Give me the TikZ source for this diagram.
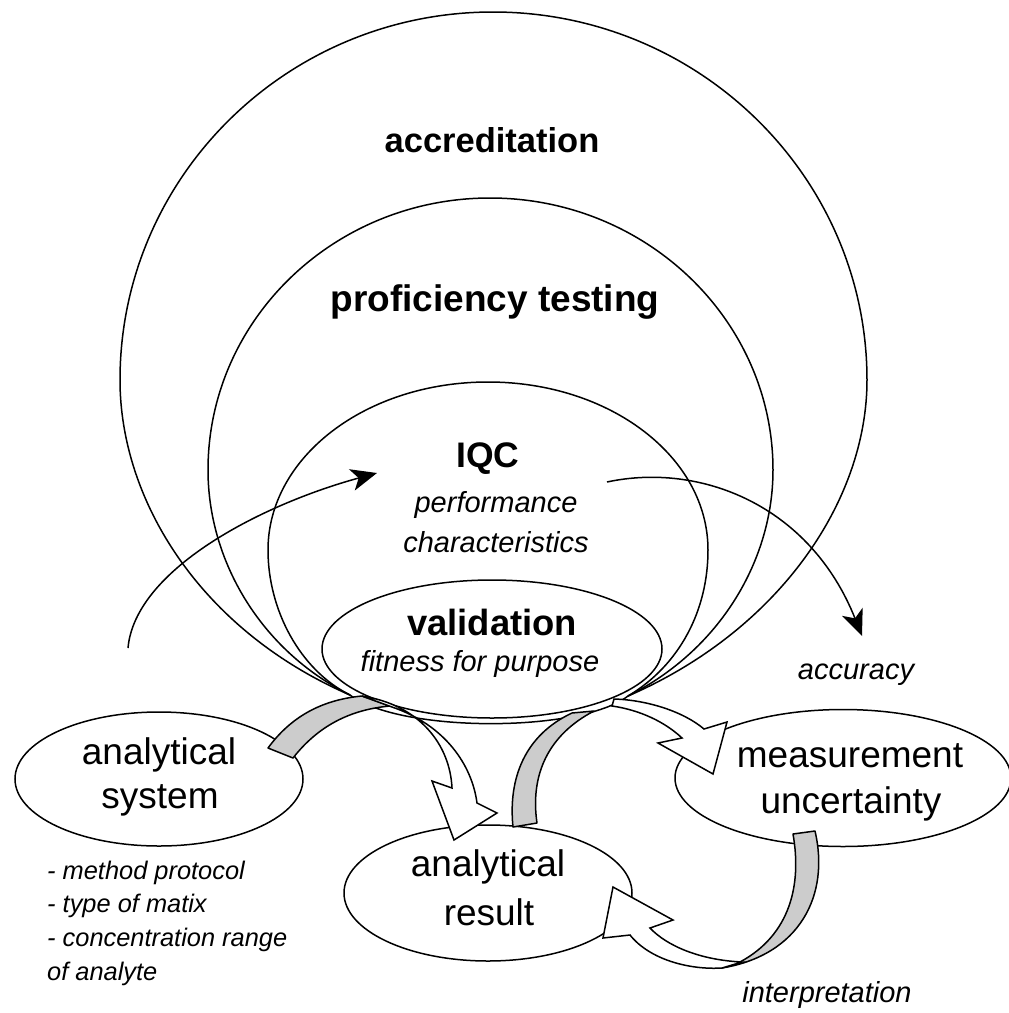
\documentclass[tikz,border=0pt]{standalone}
\usepackage{fontspec}
\setmainfont{Liberation Sans}
\usetikzlibrary{arrows.meta,shapes.geometric}

\tikzset{
  ring/.style={line width=1.5pt},
  bubble/.style={ellipse,draw,fill=white,line width=1.5pt,inner sep=0pt},
  bandgrey/.style={draw,fill=black!20,line width=1.5pt,line join=round},
  bandwhite/.style={draw,fill=white,line width=1.5pt,line join=miter},
  flow/.style={line width=1.5pt,-{Stealth[length=26pt,width=22pt,inset=7pt]}},
  titlebf/.style={font=\bfseries\fontsize{#1}{#1}\selectfont,anchor=base,inner sep=0pt},
  boxtxt/.style={font=\fontsize{37}{44}\selectfont,anchor=base,inner sep=0pt},
  notetxt/.style={font=\itshape\fontsize{29}{34}\selectfont,anchor=base,inner sep=0pt},
  listtxt/.style={font=\itshape\fontsize{25.4}{30}\selectfont,anchor=base west,inner sep=0pt},
}

\begin{document}
\begin{tikzpicture}[x=1pt,y=-1pt]
\useasboundingbox (0,0) rectangle (1009,1013);
\fill[white] (0,0) rectangle (1009,1013);

\coordinate (L) at (350,695);
\coordinate (R) at (628,696);

% nested areas
\draw[ring] (L) .. controls (200,630) and (120,500) .. (120,380)
  .. controls (120,177) and (287,12) .. (493,12)
  .. controls (699,12) and (867,177) .. (867,380)
  .. controls (867,500) and (780,630) .. (R);
\draw[ring] (L) .. controls (260,650) and (208,560) .. (208,470)
  .. controls (208,320) and (334,198) .. (490,198)
  .. controls (646,198) and (773,320) .. (773,470)
  .. controls (773,560) and (720,650) .. (R);
\draw[ring] (L) .. controls (300,670) and (268,610) .. (268,550)
  .. controls (268,457) and (366,382) .. (488,382)
  .. controls (610,382) and (708,457) .. (708,550)
  .. controls (708,610) and (680,665) .. (R);
\draw[ring] (R) .. controls (580,733) and (400,733) .. (L);

\node[bubble,minimum width=340pt,minimum height=138pt] (valid) at (492,649) {};

% thin arrows
\coordinate (s1) at (128,648);
\coordinate (e1) at (377,473);
\coordinate (s2) at (607,482);
\coordinate (e2) at (862,636);
\draw[flow] (s1) .. controls (135,570) and (260,505) .. (e1);
\draw[flow] (s2) .. controls (700,462) and (810,505) .. (e2);

\node[bubble,minimum width=288pt,minimum height=134pt] (sys) at (159,779) {};
\node[bubble,minimum width=288pt,minimum height=136pt] (res) at (488,893) {};
\node[bubble,minimum width=336pt,minimum height=137pt] (mu) at (843,778) {};

% block arrows
\filldraw[bandgrey] (268,748) .. controls (290,718) and (320,700) .. (362,696)
  -- (390,706) .. controls (345,710) and (315,730) .. (293,758) -- cycle;
\filldraw[bandwhite] (362,696) .. controls (420,705) and (450,745) .. (452,788)
  -- (432,781) -- (454,840) -- (497,813) -- (477,803)
  .. controls (472,765) and (445,725) .. (392,707) -- cycle;
\filldraw[bandgrey] (513,827) .. controls (508,778) and (525,735) .. (572,713)
  -- (594,711) .. controls (548,735) and (530,775) .. (537,823) -- cycle;
\filldraw[bandwhite] (614,699) .. controls (648,700) and (684,712) .. (704,729)
  -- (727,722) -- (713,774) -- (658,743) -- (682,738)
  .. controls (665,722) and (640,710) .. (612,706) -- cycle;
\filldraw[bandgrey] (793,834) .. controls (802,885) and (790,935) .. (740,962)
  -- (722,968) .. controls (800,955) and (830,895) .. (815,831) -- cycle;
\filldraw[bandwhite] (742,962) .. controls (700,960) and (667,946) .. (650,928)
  -- (673,920) -- (613,887) -- (603,938) -- (630,935)
  .. controls (650,960) and (690,970) .. (722,968) -- cycle;

% texts
\node[titlebf=34.5] (accr) at (492,152) {accreditation};
\node[titlebf=37] (prof) at (495,311) {proficiency testing};
\node[titlebf=35.5] (iqc) at (488,467) {IQC};
\node[notetxt] (perf) at (496,512) {performance};
\node[notetxt] (chara) at (496,552) {characteristics};
\node[titlebf=36.4] (validtxt) at (492,635) {validation};
\node[notetxt] (fit) at (480,671) {fitness for purpose};
\node[notetxt] (acc) at (856,679) {accuracy};
\node[notetxt] (interp) at (827,1002) {interpretation};

\node[boxtxt] (sys1) at (159,764) {analytical};
\node[boxtxt] (sys2) at (160,808) {system};
\node[boxtxt] (res1) at (488,876) {analytical};
\node[boxtxt] (res2) at (489,925) {result};
\node[boxtxt] (mu1) at (850,767) {measurement};
\node[boxtxt] (mu2) at (851,813) {uncertainty};

\node[listtxt] (item1) at (47,879) {- method protocol};
\node[listtxt] (item2) at (47,912) {- type of matix};
\node[listtxt] (item3) at (47,946) {- concentration range};
\node[listtxt] (item4) at (47,980) {of analyte};

\end{tikzpicture}
\end{document}
